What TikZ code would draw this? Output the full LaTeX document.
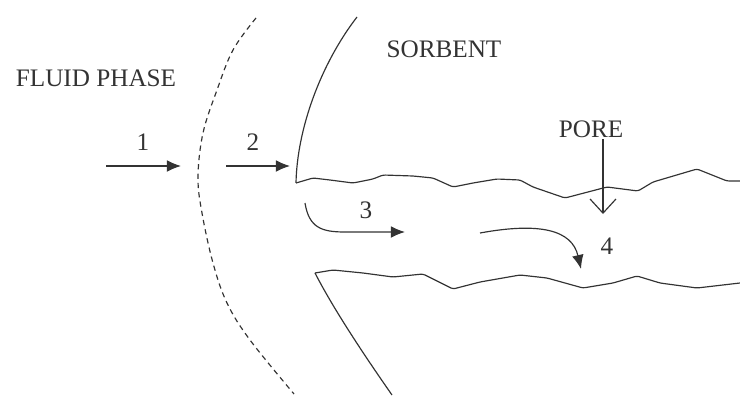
\documentclass[tikz,border=0pt]{standalone}
\usepackage{fontspec}
\setmainfont{Liberation Serif}
\usetikzlibrary{arrows.meta}
\begin{document}
\begin{tikzpicture}[x=0.03cm,y=-0.03cm,
  ink/.style={draw=black!80,line width=1pt},
  lbl/.style={text=black!80,font=\fontsize{21.5}{24}\selectfont,inner sep=0pt},
  flow/.style={ink,-{Latex[length=12pt,width=10pt]}},
  porearrow/.style={ink,-{Straight Barb[length=12pt,width=22pt,line width=1pt]}}]
\useasboundingbox (0,0) rectangle (740,395);
% labels
\node[lbl] (fluid) at (96,78) {FLUID PHASE};
\node[lbl] (sorbent) at (444,49) {SORBENT};
\node[lbl] (pore) at (591,129) {PORE};
\node[lbl] (n1) at (143,142) {1};
\node[lbl] (n2) at (253,142) {2};
\node[lbl] (n3) at (366,210) {3};
\node[lbl] (n4) at (607,246) {4};
% film boundary (dashed)
\draw[ink,dash pattern=on 4.5pt off 3.5pt] plot[smooth,tension=0.6] coordinates
 {(256,18) (233,50) (217,90) (203,133) (198,177) (202,213) (213,263) (227,303) (250,340) (294,394)};
% sorbent surface
\draw[ink] (357,17) .. controls (320,65) and (297,130) .. (296,183);
\draw[ink] (315,273) .. controls (333,308) and (362,352) .. (392,395);
% pore walls
\draw[ink,rounded corners=2pt] (296,183) -- (313,178) -- (330,180) -- (353,183) -- (373,179) -- (383,175)
 -- (413,176) -- (433,178) -- (453,187) -- (473,183) -- (497,179) -- (520,180) -- (533,187)
 -- (565,198) -- (607,187) -- (638,191) -- (653,182) -- (697,169) -- (727,181) -- (740,181);
\draw[ink,rounded corners=2pt] (315,273) -- (333,270) -- (363,273) -- (393,277) -- (423,274) -- (453,289)
 -- (480,282) -- (520,275) -- (547,278) -- (583,288) -- (613,283) -- (637,276) -- (660,283)
 -- (697,288) -- (740,283);
% arrow end points
\coordinate (a1s) at (106,166); \coordinate (a1e) at (181,166);
\coordinate (a2s) at (226,166); \coordinate (a2e) at (290,166);
\coordinate (a3s) at (305,203); \coordinate (a3e) at (405,232);
\coordinate (a4s) at (480,233); \coordinate (a4e) at (581,269);
\coordinate (pt) at (603,139); \coordinate (pb) at (603,214);
% arrows
\draw[flow] (a1s) -- (a1e);
\draw[flow] (a2s) -- (a2e);
\draw[flow] (a3s) .. controls (309,228) and (322,232) .. (345,232) -- (a3e);
\draw[flow] (a4s) .. controls (540,222) and (572,230) .. (a4e);
\draw[porearrow] (pt) -- (pb);
\end{tikzpicture}
\end{document}
